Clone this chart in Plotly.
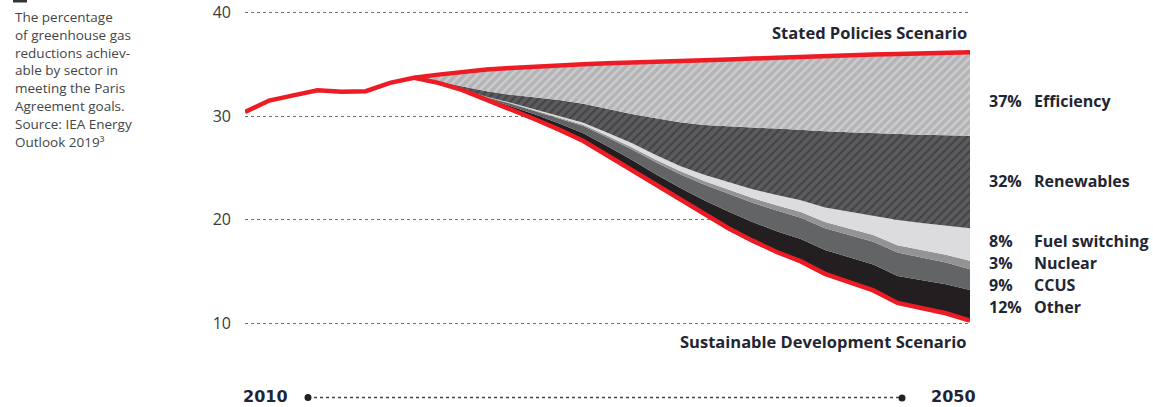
import plotly.graph_objects as go

# ---------------- data ----------------
hist_years = [2010, 2011, 2012, 2013, 2014, 2015, 2016, 2017]
hist_emissions = [30.4, 31.5, 32.0, 32.5, 32.35, 32.4, 33.2, 33.7]

proj_years = list(range(2017, 2041))
stated_policies = [33.7, 34.0, 34.3, 34.5, 34.65, 34.8, 34.9, 35.0, 35.1, 35.15, 35.2, 35.25,
                   35.35, 35.45, 35.55, 35.65, 35.75, 35.85, 35.9, 35.95, 36.0, 36.05, 36.1, 36.15]
sustainable_dev = [33.7, 33.2, 32.5, 31.6, 30.7, 29.7, 28.7, 27.6, 26.2, 24.8, 23.3, 21.9,
                   20.5, 19.2, 18.0, 16.9, 16.0, 14.8, 14.0, 13.2, 12.0, 11.5, 11.0, 10.3]

# reduction wedges (stacked upward from the Sustainable Development line)
wedge_other = [0, 0, 0.05, 0.15, 0.3, 0.45, 0.6, 0.75, 0.9, 1.0, 1.1, 1.2,
               1.4, 1.6, 1.8, 2.0, 2.15, 2.3, 2.4, 2.5, 2.6, 2.7, 2.8, 2.95]
wedge_ccus = [0, 0, 0.02, 0.08, 0.2, 0.35, 0.5, 0.7, 0.85, 1.0, 1.15, 1.3,
              1.5, 1.7, 1.85, 2.0, 2.05, 2.1, 2.15, 2.2, 2.25, 2.2, 2.1, 2.0]
wedge_nuclear = [0, 0, 0, 0.02, 0.05, 0.08, 0.1, 0.12, 0.15, 0.2, 0.25, 0.3,
                 0.35, 0.4, 0.45, 0.5, 0.55, 0.6, 0.62, 0.65, 0.7, 0.72, 0.75, 0.8]
wedge_fuel = [0, 0, 0, 0.02, 0.05, 0.1, 0.15, 0.2, 0.3, 0.4, 0.45, 0.5,
              0.6, 0.75, 0.85, 1.0, 1.15, 1.4, 1.63, 1.85, 2.45, 2.58, 2.8, 3.15]
wedge_renewables = [0, 0.15, 0.28, 0.53, 0.75, 1.12, 1.5, 1.83, 2.3, 2.8, 3.55, 4.2,
                    4.8, 5.35, 5.95, 6.4, 6.75, 7.35, 7.65, 7.95, 8.3, 8.5, 8.7, 8.9]
wedge_efficiency = [0, 0.65, 1.45, 2.1, 2.6, 3.0, 3.35, 3.8, 4.4, 4.95, 5.4, 5.85,
                    6.2, 6.45, 6.65, 6.85, 7.1, 7.3, 7.45, 7.6, 7.7, 7.85, 7.95, 8.05]

sector_names = ["Efficiency", "Renewables", "Fuel switching", "Nuclear", "CCUS", "Other"]
sector_shares = ["37%", "32%", "8%", "3%", "9%", "12%"]
y_ticks = [10, 20, 30, 40]
axis_years = ["2010", "2050"]
note_lines = ["The percentage", "of greenhouse gas", "reductions achiev-", "able by sector in",
              "meeting the Paris", "Agreement goals.", "Source: IEA Energy", "Outlook 2019³"]

# ---------------- layout helpers ----------------
W, H = 1153, 407
L, R, T, B = 245, 183, 2, 73
FONT = "Open Sans"
DARK = "#1f2633"
RED = "#ED1C24"


def pxx(x):
    return (x - L) / (W - L - R)


def pxy(y):
    return (H - B - y) / (H - T - B)


fig = go.Figure()

# base (invisible) for stacking
fig.add_trace(go.Scatter(x=proj_years, y=sustainable_dev, stackgroup="w", mode="lines",
                         line=dict(width=0), fillcolor="rgba(0,0,0,0)", hoverinfo="skip",
                         showlegend=False))
solid = [("Other", wedge_other, "#231F20"), ("CCUS", wedge_ccus, "#636466"),
         ("Nuclear", wedge_nuclear, "#939395"), ("Fuel switching", wedge_fuel, "#DCDCDE")]
for name, vals, col in solid:
    fig.add_trace(go.Scatter(x=proj_years, y=vals, stackgroup="w", mode="lines", name=name,
                             line=dict(width=0), fillcolor=col, showlegend=False))
fig.add_trace(go.Scatter(x=proj_years, y=wedge_renewables, stackgroup="w", mode="lines",
                         name="Renewables", line=dict(width=0), showlegend=False,
                         fillpattern=dict(shape="/", bgcolor="#5B5B5D", fgcolor="#2A2A2C",
                                          size=6, solidity=0.35)))
fig.add_trace(go.Scatter(x=proj_years, y=wedge_efficiency, stackgroup="w", mode="lines",
                         name="Efficiency", line=dict(width=0), showlegend=False,
                         fillpattern=dict(shape="/", bgcolor="#B4B4B6", fgcolor="#E6E6E8",
                                          size=6, solidity=0.4)))

# red scenario lines
fig.add_trace(go.Scatter(x=hist_years + proj_years[1:], y=hist_emissions + stated_policies[1:],
                         mode="lines", line=dict(color=RED, width=4.5), showlegend=False,
                         name="Stated Policies Scenario"))
fig.add_trace(go.Scatter(x=proj_years, y=sustainable_dev, mode="lines",
                         line=dict(color=RED, width=4.5), showlegend=False,
                         name="Sustainable Development Scenario"))

ann = []
# left note
for i, line in enumerate(note_lines):
    ann.append(dict(x=pxx(13), y=pxy(16.7 + 17.9 * i), xref="paper", yref="paper",
                    text=line, showarrow=False, xanchor="left", yanchor="middle",
                    font=dict(family=FONT, size=13.5, color="#454545")))
# scenario labels
ann.append(dict(x=pxx(969), y=pxy(32), xref="paper", yref="paper", text="<b>Stated Policies Scenario</b>",
                showarrow=False, xanchor="right", yanchor="middle",
                font=dict(family=FONT, size=16.5, color=DARK)))
ann.append(dict(x=pxx(969), y=pxy(341.5), xref="paper", yref="paper",
                text="<b>Sustainable Development Scenario</b>",
                showarrow=False, xanchor="right", yanchor="middle",
                font=dict(family=FONT, size=16.5, color=DARK)))
# sector labels
label_y = [100.7, 180.7, 240.7, 262.7, 285, 306.7]
for share, name, yy in zip(sector_shares, sector_names, label_y):
    ann.append(dict(x=pxx(987), y=pxy(yy), xref="paper", yref="paper", text="<b>" + share + "</b>",
                    showarrow=False, xanchor="left", yanchor="middle",
                    font=dict(family=FONT, size=16, color=DARK)))
    ann.append(dict(x=pxx(1032), y=pxy(yy), xref="paper", yref="paper", text="<b>" + name + "</b>",
                    showarrow=False, xanchor="left", yanchor="middle",
                    font=dict(family=FONT, size=16, color=DARK)))
# bottom timeline labels
ann.append(dict(x=pxx(241), y=pxy(396), xref="paper", yref="paper", text="<b>" + axis_years[0] + "</b>",
                showarrow=False, xanchor="left", yanchor="middle",
                font=dict(family="DejaVu Sans", size=16, color=DARK)))
ann.append(dict(x=pxx(929), y=pxy(396), xref="paper", yref="paper", text="<b>" + axis_years[1] + "</b>",
                showarrow=False, xanchor="left", yanchor="middle",
                font=dict(family="DejaVu Sans", size=16, color=DARK)))

shapes = [
    dict(type="rect", xref="paper", yref="paper", x0=pxx(13), x1=pxx(27), y0=pxy(0), y1=pxy(2.5),
         fillcolor="#333333", line=dict(width=0)),
    dict(type="line", xref="paper", yref="paper", x0=pxx(308), x1=pxx(902), y0=pxy(397.5), y1=pxy(397.5),
         line=dict(color="#444444", width=1.5, dash="dot")),
    dict(type="circle", xref="paper", yref="paper", x0=pxx(304.5), x1=pxx(311.5), y0=pxy(394), y1=pxy(401),
         fillcolor="#222222", line=dict(width=0)),
    dict(type="circle", xref="paper", yref="paper", x0=pxx(898.5), x1=pxx(905.5), y0=pxy(394.5), y1=pxy(401.5),
         fillcolor="#222222", line=dict(width=0)),
]

fig.update_layout(
    width=W, height=H,
    margin=dict(l=L, r=R, t=T, b=B),
    paper_bgcolor="white", plot_bgcolor="white",
    showlegend=False,
    annotations=ann, shapes=shapes,
    xaxis=dict(range=[2010, 2040], showgrid=False, zeroline=False, showline=False,
               showticklabels=False, ticks=""),
    yaxis=dict(range=[9, 41], tickvals=y_ticks, ticktext=[str(v) for v in y_ticks],
               showgrid=True, gridcolor="#6f6f6f", gridwidth=1, griddash="dot",
               zeroline=False, showline=False, ticks="", ticklabelstandoff=13,
               tickfont=dict(family=FONT, size=16, color="#3a3a3a")),
)

fig.write_html("out.html")
